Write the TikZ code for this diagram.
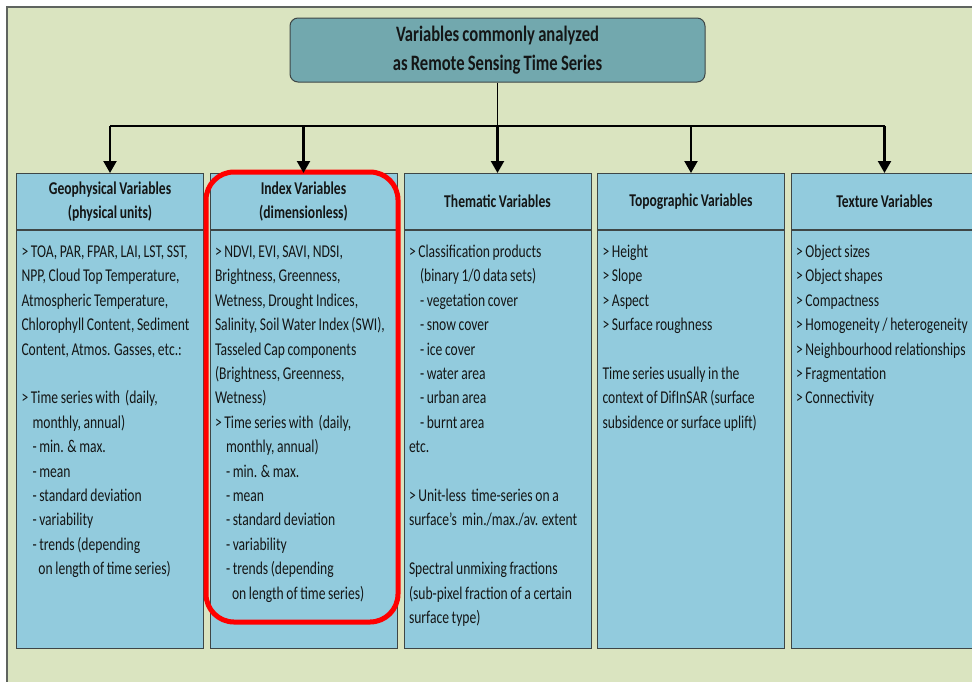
\documentclass[tikz,border=0pt]{standalone}
\usepackage{fontspec}
\setmainfont{Carlito}[FakeStretch=0.755, WordSpace=0.85,
  BoldFeatures={FakeStretch=0.755, WordSpace=0.85}]
\usetikzlibrary{arrows.meta, positioning}

\definecolor{panelbg}{RGB}{218,228,192}
\definecolor{framegray}{RGB}{95,100,95}
\definecolor{boxfill}{RGB}{146,203,221}
\definecolor{titlefill}{RGB}{114,168,174}
\definecolor{edgegray}{RGB}{62,70,70}
\definecolor{inkgray}{RGB}{20,22,22}

\newcommand{\bodytext}[1]{\parbox[t][418pt][t]{177pt}{\raggedright\rule{0pt}{27pt}#1}}
\newcommand{\ind}{\hspace*{11pt}}
\newcommand{\indd}{\hspace*{17pt}}

\begin{document}
\begin{tikzpicture}[
    x=1pt, y=-1pt,
    title/.style={draw=edgegray, fill=titlefill, line width=1pt, rounded corners=8pt,
      minimum width=415pt, minimum height=64pt, align=center, text=inkgray,
      font=\fontsize{22}{29}\selectfont\bfseries},
    head/.style={draw=edgegray, fill=boxfill, line width=1pt, minimum width=187pt,
      minimum height=56pt, inner sep=0pt, align=center, anchor=north,
      text=inkgray, font=\fontsize{18}{24.4}\selectfont\bfseries},
    body/.style={draw=edgegray, fill=boxfill, line width=1pt, inner xsep=5pt, inner ysep=0pt,
      text=inkgray, font=\fontsize{18}{24.4}\selectfont},
    hl/.style={draw=red, line width=5pt, rounded corners=28pt, minimum width=192pt,
      minimum height=450pt},
    arr/.style={-{Triangle[length=12pt, width=13pt]}, line width=2.2pt},
    bus/.style={line width=1.6pt}
  ]

    %% ── page + panel ──
    \clip (0,0) rectangle (972,681);
    \fill[white] (0,0) rectangle (972,681);
    \draw[framegray, fill=panelbg, line width=1.2pt] (7,7) rectangle (1000,700);

    %% ── title ──
    \node[title] (title) at (497.5,50) {Variables commonly analyzed\\as Remote Sensing Time Series};

    %% ── headers ──
    \node[head] (geoH)  at (110,173)   {Geophysical Variables\\(physical units)};
    \node[head] (idxH)  at (303.5,173) {Index Variables\\(dimensionless)};
    \node[head] (themH) at (497.5,173) {Thematic Variables};
    \node[head] (topoH) at (691,173)   {Topographic Variables};
    \node[head] (texH)  at (884.5,173) {Texture Variables};

    %% ── bodies ──
    \node[body, below=0pt of geoH] (geoB) {\bodytext{%
      > TOA, PAR, FPAR, LAI, LST, SST,\\
      NPP, Cloud Top Temperature,\\
      Atmospheric Temperature,\\
      Chlorophyll Content, Sediment\\
      Content, Atmos. Gasses, etc.:\\[24.4pt]
      > Time series with \ (daily,\\
      \ind monthly, annual)\\
      \ind - min. \& max.\\
      \ind - mean\\
      \ind - standard deviation\\
      \ind - variability\\
      \ind - trends (depending\\
      \indd on length of time series)}};

    \node[body, below=0pt of idxH] (idxB) {\bodytext{%
      > NDVI, EVI, SAVI, NDSI,\\
      Brightness, Greenness,\\
      Wetness, Drought Indices,\\
      Salinity, Soil Water Index (SWI),\\
      Tasseled Cap components\\
      (Brightness, Greenness,\\
      Wetness)\\
      > Time series with \ (daily,\\
      \ind monthly, annual)\\
      \ind - min. \& max.\\
      \ind - mean\\
      \ind - standard deviation\\
      \ind - variability\\
      \ind - trends (depending\\
      \indd on length of time series)}};

    \node[body, below=0pt of themH] (themB) {\bodytext{%
      > Classification products\\
      \ind (binary 1/0 data sets)\\
      \ind - vegetation cover\\
      \ind - snow cover\\
      \ind - ice cover\\
      \ind - water area\\
      \ind - urban area\\
      \ind - burnt area\\
      etc.\\[24.4pt]
      > Unit-less \ time-series on a\\
      surface’s \ min./max./av. extent\\[24.4pt]
      Spectral unmixing fractions\\
      (sub-pixel fraction of a certain\\
      surface type)}};

    \node[body, below=0pt of topoH] (topoB) {\bodytext{%
      > Height\\
      > Slope\\
      > Aspect\\
      > Surface roughness\\[24.4pt]
      Time series usually in the\\
      context of DifInSAR (surface\\
      subsidence or surface uplift)}};

    \node[body, below=0pt of texH] (texB) {\bodytext{%
      > Object sizes\\
      > Object shapes\\
      > Compactness\\
      \mbox{> Homogeneity / heterogeneity}\\
      \mbox{> Neighbourhood relationships}\\
      > Fragmentation\\
      > Connectivity}};

    %% ── highlight round index box ──
    \node[hl] (hlIdx) at (302,397) {};

    %% ═══════ CONNECTORS ═══════
    \coordinate (bus) at (497.5,126);
    \draw[bus] (title.south) -- (bus);
    \draw[bus] (bus -| geoH.north) -- (bus -| texH.north);
    \draw[arr] (bus -| geoH.north)  -- (geoH.north);
    \draw[arr] (bus -| idxH.north)  -- (idxH.north);
    \draw[arr] (bus -| themH.north) -- (themH.north);
    \draw[arr] (bus -| topoH.north) -- (topoH.north);
    \draw[arr] (bus -| texH.north)  -- (texH.north);

\end{tikzpicture}
\end{document}
